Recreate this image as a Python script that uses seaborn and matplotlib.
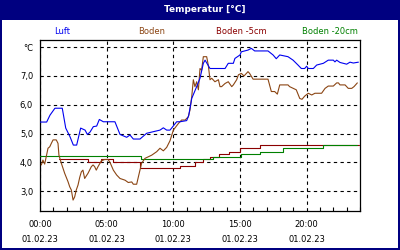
import matplotlib
matplotlib.use("Agg")
import matplotlib.pyplot as plt
from matplotlib.patches import Rectangle
from matplotlib.ticker import FixedLocator, MultipleLocator
import numpy as np
import pandas as pd
import seaborn as sns

sns.set_style("white")
plt.rcParams["font.family"] = ["DejaVu Sans"]

# ---- data (hours since 00:00, values in °C) ----
luft_h = [0.0, 0.5, 0.75, 1.12, 1.67, 1.93, 2.25, 2.5, 2.75, 3.05, 3.38, 3.55, 3.75, 4.0, 4.25,
          4.45, 4.75, 5.62, 6.0, 6.5, 6.75, 7.0, 7.5, 8.0, 9.0, 9.25, 9.5, 9.75, 10.25, 10.5,
          11.0, 11.15, 11.38, 11.75, 12.0, 12.25, 12.38, 12.75, 13.88, 14.12, 14.5, 14.62, 15.0,
          15.1, 15.6, 15.85, 16.1, 17.1, 17.48, 17.72, 17.98, 18.6, 18.98, 19.35, 19.6, 19.85,
          20.0, 20.12, 20.5, 20.75, 21.25, 21.62, 22.0, 22.12, 22.25, 22.5, 23.0, 23.25, 23.5, 23.88]
luft_v = [5.40, 5.40, 5.64, 5.88, 5.88, 5.19, 4.89, 4.60, 4.60, 5.19, 5.12, 4.97, 5.05, 5.24, 5.26,
          5.49, 5.41, 5.41, 4.97, 4.87, 4.95, 4.81, 4.81, 5.01, 5.12, 5.20, 5.12, 5.12, 5.41, 5.41,
          5.45, 5.62, 6.22, 6.63, 6.92, 7.44, 7.55, 7.26, 7.26, 7.44, 7.44, 7.61, 7.73,
          7.84, 7.90, 7.96, 7.87, 7.87, 7.73, 7.60, 7.73, 7.67, 7.55, 7.38, 7.26, 7.26,
          7.34, 7.26, 7.26, 7.38, 7.44, 7.55, 7.55, 7.49, 7.55, 7.47, 7.41, 7.48, 7.45, 7.48]

boden_h = [0.1, 0.22, 0.35, 0.47, 0.6, 0.73, 0.85, 0.98, 1.22, 1.35, 1.42, 1.6, 1.85, 2.1, 2.23,
           2.35, 2.48, 2.6, 2.72, 2.85, 2.98, 3.1, 3.22, 3.35, 3.6, 3.85, 3.98, 4.1, 4.22, 4.35,
           4.6, 4.85, 5.1, 5.25, 5.5, 5.75, 6.0, 6.38, 6.62, 6.88, 7.0, 7.25, 7.38, 7.62, 7.88,
           8.38, 8.75, 9.0, 9.25, 9.5, 9.75, 10.0, 10.38, 10.62, 10.88, 11.12, 11.25, 11.38, 11.5,
           11.62, 11.75, 11.88, 12.0, 12.12, 12.25, 12.5, 12.62, 12.75, 12.88, 13.12, 13.38, 13.5,
           13.62, 13.88, 14.12, 14.38, 14.5, 14.75, 14.88, 15.1, 15.3, 15.6, 15.72, 15.98, 17.1,
           17.35, 17.6, 17.8, 17.98, 18.6, 18.72, 19.22, 19.48, 19.65, 19.85, 20.12, 20.38, 20.62,
           21.12, 21.38, 21.62, 22.0, 22.25, 22.38, 22.5, 22.88, 23.12, 23.38, 23.55, 23.8]
boden_v = [3.91, 4.08, 3.94, 4.20, 4.49, 4.54, 4.66, 4.78, 4.78, 4.66, 4.25, 3.97, 3.62, 3.33, 3.15,
           3.04, 2.69, 2.80, 3.04, 3.21, 3.48, 3.67, 3.73, 3.44, 3.62, 3.85, 3.91, 3.85, 3.73, 3.85,
           4.05, 4.10, 4.10, 4.00, 3.73, 3.56, 3.44, 3.38, 3.30, 3.32, 3.24, 3.24, 3.50, 3.97, 4.14,
           4.25, 4.37, 4.49, 4.40, 4.52, 4.75, 5.12, 5.35, 5.47, 5.47, 5.58, 5.82, 6.28, 6.87,
           6.63, 6.80, 6.52, 7.26, 7.20, 7.67, 7.67, 7.38, 6.87, 6.92, 6.80, 6.87, 6.63,
           6.63, 6.74, 6.80, 6.63, 6.69, 6.87, 7.04, 7.09, 7.00, 7.15, 7.09, 6.89, 6.89,
           6.46, 6.46, 6.37, 6.69, 6.69, 6.63, 6.52, 6.22, 6.19, 6.30, 6.40, 6.34, 6.40,
           6.40, 6.57, 6.65, 6.65, 6.76, 6.76, 6.69, 6.69, 6.57, 6.57, 6.63, 6.76]

b5_h = [1.4, 3.6, 4.6, 5.5, 7.5, 10.5, 11.6, 12.25, 12.75, 13.4, 14.2, 15.0, 16.5, 23.9]
b5_v = [4.10, 4.00, 4.10, 4.00, 3.79, 3.89, 4.00, 4.10, 4.19, 4.28, 4.37, 4.49, 4.60, 4.60]

b20_h = [0.0, 7.6, 13.0, 15.1, 16.5, 18.25, 21.25, 23.75]
b20_v = [4.22, 4.10, 4.19, 4.28, 4.37, 4.49, 4.60, 4.60]

tick_hours = [0, 5, 10, 15, 20]
tick_labels = ["00:00\n01.02.23", "05:00\n01.02.23", "10:00\n01.02.23",
               "15:00\n01.02.23", "20:00\n01.02.23"]
y_ticks = [3, 4, 5, 6, 7, 8]
y_labels = ["3,0", "4,0", "5,0", "6,0", "7,0", "°C"]

names = ["Luft", "Boden", "Boden -5cm", "Boden -20cm"]
colors = ["#0000f0", "#8b4513", "#8b0000", "#008000"]

NAVY = "#000080"
W, H = 400, 250
fig = plt.figure(figsize=(4, 2.5), dpi=100)
fig.patch.set_facecolor("white")

# frame and title bar
fig.patches.append(Rectangle((0, 1 - 20 / H), 1, 20 / H, transform=fig.transFigure,
                             facecolor=NAVY, edgecolor="none", zorder=0))
for (x0, y0, w, h) in [(0, 0, 2 / W, 1), (1 - 2 / W, 0, 2 / W, 1), (0, 0, 1, 2 / H)]:
    fig.patches.append(Rectangle((x0, y0), w, h, transform=fig.transFigure,
                                 facecolor=NAVY, edgecolor="none", zorder=0))

fig.text(205 / W, 1 - 9 / H, "Temperatur [°C]", color="white", fontweight="bold",
         fontsize=6.5, ha="center", va="center")
for name, c, xc in zip(names, colors, [62, 152, 241, 330]):
    fig.text(xc / W, 1 - 31 / H, name, color=c, fontsize=6, ha="center", va="center")

ax = fig.add_axes([40 / W, 1 - 211 / H, 320 / W, 171 / H])
ax.set_facecolor("white")

lw = 0.8
sns.lineplot(x=luft_h, y=luft_v, ax=ax, color=colors[0], linewidth=lw, zorder=5)
sns.lineplot(x=boden_h, y=boden_v, ax=ax, color=colors[1], linewidth=lw, zorder=4)
sns.lineplot(x=b5_h, y=b5_v, ax=ax, color=colors[2], linewidth=lw, drawstyle="steps-post", zorder=3)
sns.lineplot(x=b20_h, y=b20_v, ax=ax, color=colors[3], linewidth=lw, drawstyle="steps-post", zorder=3.5)

ax.set_xlim(0, 24)
ax.set_ylim(2.31, 8.25)
ax.set_xlabel("")
ax.set_ylabel("")

ax.xaxis.set_major_locator(FixedLocator(tick_hours))
ax.set_xticklabels(tick_labels)
ax.xaxis.set_minor_locator(MultipleLocator(1))
ax.set_yticks(y_ticks)
ax.set_yticklabels(y_labels)

ax.grid(True, which="major", color="black", linestyle=(0, (3, 3)), linewidth=0.8)
ax.tick_params(axis="x", which="major", direction="in", length=3, width=0.8,
               labelsize=6, pad=6.5, colors="black")
ax.tick_params(axis="x", which="minor", direction="in", length=3, width=0.8,
               bottom=True, colors="black")
ax.tick_params(axis="y", which="both", length=0, labelsize=6, pad=5, colors="black")
for lab in ax.get_xticklabels():
    lab.set_linespacing(1.85)

for s in ax.spines.values():
    s.set_visible(True)
    s.set_color("black")
    s.set_linewidth(0.9)

fig.savefig("out.png", dpi=100)
